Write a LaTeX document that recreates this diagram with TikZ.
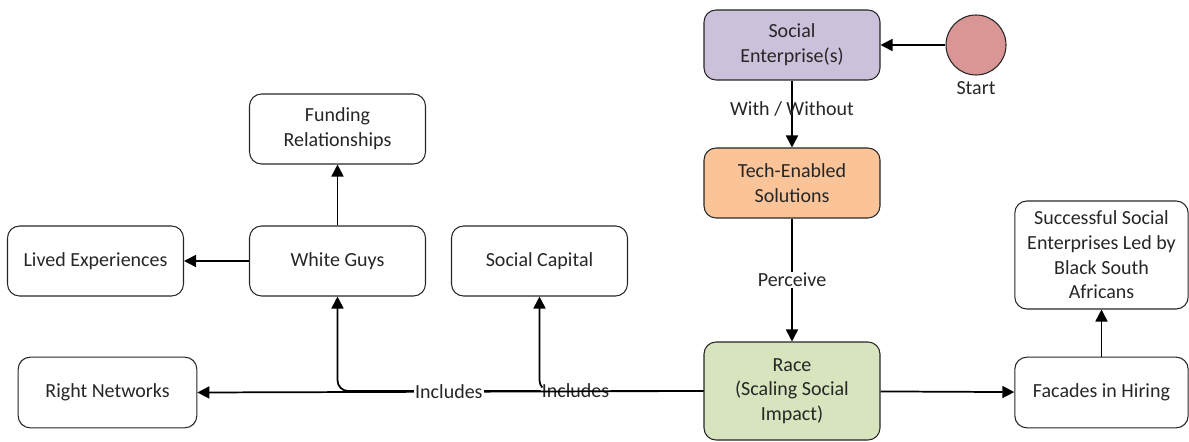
\documentclass[tikz,border=0pt]{standalone}
\usepackage{fontspec}
\setmainfont{Carlito}
\usetikzlibrary{arrows.meta}
\definecolor{sepurple}{RGB}{204,193,218}
\definecolor{techorange}{RGB}{250,196,152}
\definecolor{racegreen}{RGB}{215,228,189}
\definecolor{startred}{RGB}{217,150,148}
\definecolor{ink}{RGB}{38,38,38}
\begin{document}
\begin{tikzpicture}[x=0.75pt,y=-0.75pt,
  box/.style={draw=ink, line width=0.8pt, rounded corners=9pt, align=center,
    font=\fontsize{15}{18.5}\selectfont, inner sep=0pt, text=ink,
    minimum width=132pt, minimum height=52.5pt},
  link/.style={draw=black, line width=1.3pt, -{Triangle[length=9pt,width=9pt]}},
  lbl/.style={font=\fontsize{15}{18.5}\selectfont, text=ink, inner sep=1pt}]
\useasboundingbox (0,0) rectangle (1189,442);

% states
\node[box, fill=sepurple] (se) at (792,45) {Social\\Enterprise(s)};
\node[box, fill=techorange] (tech) at (792,183) {Tech-Enabled\\Solutions};
\node[box, fill=racegreen, minimum height=73.5pt] (race) at (792,391) {Race\\(Scaling Social\\Impact)};
\node[box, minimum width=130pt, minimum height=53pt] (fac) at (1101.5,392.5) {Facades in Hiring};
\node[box, minimum width=130pt, minimum height=81pt] (succ) at (1101.5,255) {Successful Social\\Enterprises Led by\\Black South\\Africans};
\node[box] (fund) at (337.5,129) {Funding\\Relationships};
\node[box] (wg) at (337.5,261) {White Guys};
\node[box] (lived) at (95.5,261) {Lived Experiences};
\node[box] (cap) at (539.5,261) {Social Capital};
\node[box, minimum width=134pt, minimum height=53pt] (rn) at (107.5,392.5) {Right Networks};

% start marker
\node[circle, draw=ink, line width=0.8pt, fill=startred, minimum size=45pt, inner sep=0pt] (start) at (976,45) {};
\node[lbl] (startlbl) at (976,88) {Start};

% connectors
\draw[link] (start) -- (se);
\draw[link] (se) -- (tech) node[lbl, pos=0.42] {With / Without};
\draw[link] (tech) -- (race) node[lbl, fill=white, pos=0.5] {Perceive};
\draw[link] (race) -- (fac);
\draw[link] (fac) -- (succ);
\draw[link] (wg) -- (fund);
\draw[link] (wg) -- (lived);
\draw[link, rounded corners=8pt] (race.west) -| (wg.south);
\draw[link, rounded corners=8pt] (race.west) -| (cap.south)
  node[lbl, fill=white, pos=0.39] {Includes};
\draw[link] (race.west) -- (rn.east) node[lbl, fill=white, pos=0.503] {Includes};
\end{tikzpicture}
\end{document}
